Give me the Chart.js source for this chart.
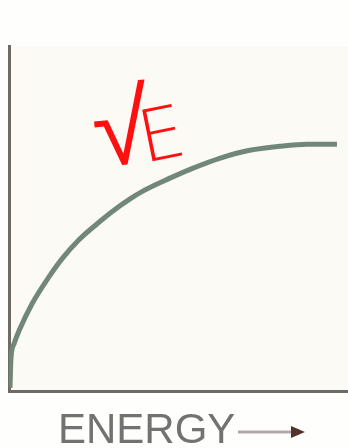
<!DOCTYPE html>
<html>
<head>
<meta charset="utf-8">
<script src="https://cdn.jsdelivr.net/npm/chart.js@4.4.1/dist/chart.umd.min.js"></script>
<style>
  html, body { margin: 0; padding: 0; background: #ffffff; }
  #wrap { width: 348px; height: 448px; position: relative; }
</style>
</head>
<body>
<div id="wrap"><canvas id="c" width="348" height="448"></canvas></div>
<script>
// Energy (horizontal) and the square-root-like response it produces
const energy   = [1, 2, 5, 10, 23, 40, 53, 70, 87, 103, 120, 133, 160, 183, 210, 240, 270, 297, 327];
const response = [3, 33, 47, 60, 87, 114, 132, 151, 166, 179, 191, 199, 212, 222, 232, 240, 244, 246, 246];
const axisLabel = 'ENERGY';
const rootSign = '√';
const rootArg = 'E';

const points = energy.map((e, i) => ({ x: e, y: response[i] }));

const decorations = {
  id: 'decorations',
  beforeDraw(chart) {
    const { ctx, chartArea: a } = chart;
    ctx.save();
    ctx.fillStyle = '#fefefd';
    ctx.fillRect(0, 0, chart.width, chart.height);
    ctx.fillStyle = '#fcfaf4';
    ctx.fillRect(a.left, a.top, a.right - a.left, a.bottom - a.top);
    ctx.restore();
  },
  afterDraw(chart) {
    const { ctx } = chart;
    ctx.save();
    // axis caption
    ctx.fillStyle = '#727272';
    ctx.font = '42px "Liberation Sans", Arial, sans-serif';
    ctx.textBaseline = 'alphabetic';
    ctx.fillText(axisLabel, 58, 443);
    // arrow after the caption
    ctx.strokeStyle = '#b3a6ad';
    ctx.lineWidth = 3;
    ctx.beginPath();
    ctx.moveTo(238, 432);
    ctx.lineTo(296, 432);
    ctx.stroke();
    ctx.fillStyle = '#52322c';
    ctx.beginPath();
    ctx.moveTo(291, 426);
    ctx.lineTo(305, 432);
    ctx.lineTo(291, 438);
    ctx.closePath();
    ctx.fill();
    // red annotation above the curve
    ctx.fillStyle = '#ff1010';
    ctx.save();
    ctx.font = '200 104px "DejaVu Sans", sans-serif';
    ctx.translate(96, 167);
    ctx.rotate(-0.1);
    ctx.fillText(rootSign, 0, 0);
    ctx.restore();
    ctx.save();
    ctx.font = '200 72px "DejaVu Sans", sans-serif';
    ctx.translate(144, 163);
    ctx.rotate(-0.2);
    ctx.fillText(rootArg, 0, 0);
    ctx.restore();
    ctx.restore();
  }
};

new Chart(document.getElementById('c'), {
  type: 'line',
  data: {
    datasets: [{
      data: points,
      borderColor: '#718878',
      borderWidth: 5,
      pointRadius: 0,
      cubicInterpolationMode: 'monotone',
      fill: false
    }]
  },
  options: {
    responsive: false,
    animation: false,
    layout: { padding: { left: 9, top: 46, right: 0, bottom: 57 } },
    plugins: { legend: { display: false }, tooltip: { enabled: false } },
    scales: {
      x: {
        type: 'linear', min: 0, max: 338,
        ticks: { display: false },
        grid: { display: false, drawTicks: false },
        border: { display: true, color: '#6f6a68', width: 3 }
      },
      y: {
        min: 0, max: 344,
        ticks: { display: false },
        grid: { display: false, drawTicks: false },
        border: { display: true, color: '#6f6a68', width: 3 }
      }
    }
  },
  plugins: [decorations]
});
</script>
</body>
</html>
